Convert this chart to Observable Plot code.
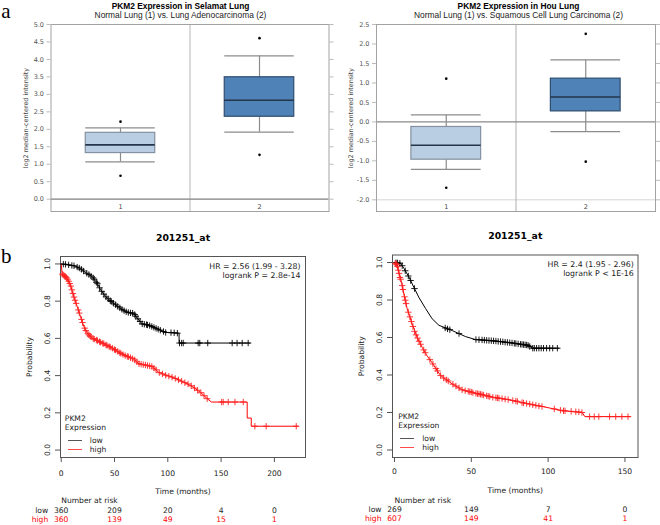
<!DOCTYPE html>
<html><head><meta charset="utf-8">
<script src="https://cdn.jsdelivr.net/npm/d3@7"></script>
<script src="https://cdn.jsdelivr.net/npm/@observablehq/plot@0.6"></script>
<style>
html,body{margin:0;padding:0;background:#fff;}
#wrap{position:relative;width:660px;height:525px;overflow:hidden;background:#fff;}
.lab{position:absolute;font-family:"Liberation Serif","DejaVu Serif",serif;font-size:21px;line-height:21px;color:#000;}
.key{position:absolute;height:1px;}
</style></head><body><div id="wrap"></div>
<script>
// ---------- Panel a: box plots ----------
const boxGroups = ["1", "2"];
const selamatTicks = [0, 0.5, 1, 1.5, 2, 2.5, 3, 3.5, 4, 4.5, 5];
const selamatQ1 = [1.32, 2.36];
const selamatMedian = [1.556, 2.83];
const selamatQ3 = [1.90, 3.49];
const selamatWhiskerLo = [1.07, 1.92];
const selamatWhiskerHi = [2.04, 4.10];
const selamatOutlierHi = [2.22, 4.61];
const selamatOutlierLo = [0.67, 1.27];

const houTicks = [-2, -1.5, -1, -0.5, 0, 0.5, 1, 1.5, 2, 2.5];
const houQ1 = [-0.97, 0.27];
const houMedian = [-0.60, 0.64];
const houQ3 = [-0.13, 1.11];
const houWhiskerLo = [-1.22, -0.25];
const houWhiskerHi = [0.18, 1.59];
const houOutlierHi = [1.11, 2.26];
const houOutlierLo = [-1.69, -1.02];

// ---------- Panel b: Kaplan-Meier ----------
const probTicks = [0, 0.2, 0.4, 0.6, 0.8, 1.0];

// left KM
const timeTicks1 = [0, 50, 100, 150, 200];
const lowCurve1 = [[0,1.0],[5,0.997],[13,0.989],[18,0.975],[23,0.953],[29,0.932],[33.8,0.896],[37,0.861],[41.6,0.825],[48,0.793],[54,0.768],[60.4,0.744],[64,0.737],[68.2,0.735],[71.3,0.709],[76,0.678],[82.3,0.671],[88.6,0.655],[98,0.632],[110.6,0.628],[110.6,0.575],[177,0.575]];
const highCurve1 = [[0,1.0],[0.9,0.946],[5.6,0.923],[8.7,0.887],[11.8,0.825],[15,0.771],[18.1,0.717],[21.2,0.664],[24.4,0.628],[29,0.602],[38.5,0.575],[47.8,0.548],[57.2,0.515],[68.1,0.489],[72.8,0.464],[85.3,0.449],[91.6,0.417],[104.1,0.392],[113.5,0.369],[122.9,0.342],[130.7,0.31],[137,0.276],[141,0.258],[174.5,0.258],[174.5,0.172],[178.3,0.172],[178.3,0.128],[222.3,0.128]];
const lowCensor1 = [[2,.999],[4,.998],[7,.995],[10,.992],[12,.990],[15,.983],[17,.978],[19,.971],[21,.962],[24,.950],[26,.943],[28,.935],[30,.925],[31,.918],[33,.901],[34,.894],[36,.872],[38,.853],[40,.838],[42,.823],[44,.813],[46,.803],[47,.798],[49,.789],[51,.781],[53,.772],[55,.764],[57,.756],[59,.749],[61,.743],[63,.739],[65,.737],[67,.736],[69,.728],[70,.719],[72,.705],[74,.691],[76,.678],[78,.676],[80,.674],[81,.672],[83,.669],[85,.664],[87,.659],[89,.654],[91,.649],[93,.644],[96,.637],[98,.632],[103,.631],[106,.630],[109,.628],[111,.575],[113,.575],[114.5,.575],[128.5,.575],[130,.575],[137.5,.575],[160.4,.575],[165,.575],[169.8,.575],[175.4,.575]];
const highCensor1 = [[1,.945],[2,.941],[3,.936],[4,.932],[5,.926],[6,.918],[7,.907],[8,.895],[9,.881],[10,.861],[11,.841],[12,.822],[13,.805],[14,.788],[16,.753],[17,.736],[19,.702],[20,.685],[22,.655],[23,.642],[25,.625],[26,.619],[27,.613],[28,.608],[30,.599],[31,.596],[33,.591],[34,.588],[36,.582],[37,.579],[39,.574],[40,.571],[42,.565],[43,.562],[45,.556],[46,.553],[48,.547],[50,.540],[51,.537],[53,.530],[55,.523],[56,.519],[58,.513],[60,.508],[62,.503],[63,.501],[65,.496],[67,.491],[69,.484],[71,.474],[73,.464],[75,.461],[77,.459],[79,.457],[81,.454],[83,.452],[85,.449],[87,.440],[89,.431],[92,.416],[95,.409],[98,.402],[101,.397],[104,.392],[107,.385],[110,.377],[113,.370],[116,.362],[119,.355],[122,.345],[125,.333],[128,.321],[131,.308],[134,.292],[137,.276],[150.5,.258],[152,.258],[156.7,.258],[163,.258],[170.8,.258],[181.7,.128],[192.3,.128],[220.5,.128]];
const riskTimes1 = [0, 50, 100, 150, 200];
const riskLow1 = [360, 209, 20, 4, 0];
const riskHigh1 = [360, 139, 49, 15, 1];
const hrText1 = "HR = 2.56 (1.99 - 3.28)";
const pText1 = "logrank P = 2.8e-14";

// right KM
const timeTicks2 = [0, 50, 100, 150];
const lowCurve2 = [[0,1],[3.9,0.996],[6.1,0.969],[9.3,0.924],[12.6,0.868],[15.8,0.815],[20.2,0.755],[24.5,0.70],[28.9,0.665],[37.6,0.637],[46.2,0.605],[52.7,0.589],[65.8,0.581],[76.6,0.571],[87.4,0.558],[89.6,0.543],[107,0.543]];
const highCurve2 = [[0,1],[1.7,0.987],[2.8,0.948],[4.6,0.893],[6.1,0.832],[8.2,0.755],[11.5,0.672],[14.8,0.60],[18,0.548],[21,0.505],[24.5,0.465],[29.9,0.398],[37.5,0.353],[44,0.321],[52.7,0.303],[63.6,0.282],[74.4,0.268],[85.3,0.249],[96.2,0.232],[109.2,0.21],[122.2,0.20],[123.9,0.178],[153.6,0.178]];
const lowCensor2 = [[1,.999],[2,.998],[3.5,.996],[5,.983],[7,.956],[9,.928],[10.5,.904],[13,.861],[33,.651],[34.5,.646],[36,.642],[42,.621],[53,.589],[55,.588],[57,.587],[58.5,.586],[60,.585],[61.5,.584],[63,.583],[64.5,.582],[66,.581],[67.5,.579],[69,.578],[70.5,.577],[72,.575],[73.5,.574],[75,.572],[76.5,.571],[78,.569],[79,.568],[80.5,.566],[82,.564],[83,.563],[84,.562],[85,.561],[86,.560],[87,.558],[88,.552],[90,.543],[91,.543],[92.5,.543],[94,.543],[95.5,.543],[97,.543],[99,.543],[101,.543],[103,.543],[106,.543]];
const highCensor2 = [[0.5,.996],[1,.992],[1.5,.988],[2,.978],[2.5,.959],[3,.942],[3.5,.92],[4,.911],[5,.877],[5.5,.856],[6.5,.817],[7,.799],[7.5,.781],[9,.735],[10,.710],[11,.685],[12,.659],[13,.633],[14,.614],[15,.597],[16,.580],[17,.564],[19,.534],[20,.519],[23,.482],[25,.459],[27,.434],[28,.422],[30,.397],[32,.384],[34,.374],[35,.368],[38,.351],[40,.341],[42,.331],[44,.321],[46,.316],[48,.313],[49,.311],[50,.309],[51,.306],[53,.302],[54,.300],[55,.299],[56,.297],[57,.295],[58,.293],[60,.289],[61,.287],[62,.285],[64,.281],[66,.279],[67,.278],[68,.276],[70,.274],[72,.271],[74,.269],[77,.264],[79,.261],[80,.259],[83,.253],[84,.251],[86,.248],[88,.245],[90,.241],[92,.238],[94,.235],[96,.232],[104,.219],[108,.212],[110,.209],[111,.209],[115,.206],[118,.204],[120,.203],[122,.200],[127,.178],[130,.178],[133,.178],[140,.178],[144,.178],[148,.178],[152,.178]];
const riskTimes2 = [0, 50, 100, 150];
const riskLow2 = [269, 149, 7, 0];
const riskHigh2 = [607, 149, 41, 1];
const hrText2 = "HR = 2.4 (1.95 - 2.96)";
const pText2 = "logrank P < 1E-16";

const kmTitle = "201251_at";
const legendTitle = ["PKM2", "Expression"];
const groupNames = ["low", "high"];

// ---------- rendering ----------
const wrap = document.getElementById("wrap");
function place(node, left, top) {
  node.style.position = "absolute";
  node.style.left = left + "px";
  node.style.top = top + "px";
  wrap.appendChild(node);
}

function boxPanel(o) {
  const idx = boxGroups.map((_, i) => i);
  const half = 0.25;
  const whisk = "#8c8c8c";
  const fills = ["#b9cde3", "#4f82b6"];
  const strokes = ["#8491a0", "#2f4d6e"];
  const marks = [
    Plot.ruleY([o.ticks[0]], {stroke: "#d4d4d4", strokeWidth: 1}),
    Plot.ruleX(idx.slice(1), {stroke: o.divider, strokeWidth: o.dividerWidth}),
    Plot.ruleY([0], {stroke: "#8a8a8a", strokeWidth: 1.3}),
    Plot.ruleX(idx, {x: i => i + 0.5, y1: i => o.whi[i], y2: i => o.q3[i], stroke: whisk, strokeWidth: 1.2}),
    Plot.ruleX(idx, {x: i => i + 0.5, y1: i => o.wlo[i], y2: i => o.q1[i], stroke: whisk, strokeWidth: 1.2}),
    Plot.ruleY(idx, {y: i => o.whi[i], x1: i => i + 0.5 - half, x2: i => i + 0.5 + half, stroke: whisk, strokeWidth: 1.2}),
    Plot.ruleY(idx, {y: i => o.wlo[i], x1: i => i + 0.5 - half, x2: i => i + 0.5 + half, stroke: whisk, strokeWidth: 1.2}),
    ...idx.map(i => Plot.rect([i], {x1: d => d + 0.5 - half, x2: d => d + 0.5 + half, y1: d => o.q1[d], y2: d => o.q3[d], fill: fills[i], stroke: strokes[i], strokeWidth: 1.2})),
    Plot.ruleY(idx, {y: i => o.med[i], x1: i => i + 0.5 - half, x2: i => i + 0.5 + half, stroke: "#25354a", strokeWidth: 1.6}),
    Plot.dot(idx, {x: i => i + 0.5, y: i => o.outHi[i], r: 1.3, fill: "#000"}),
    Plot.dot(idx, {x: i => i + 0.5, y: i => o.outLo[i], r: 1.3, fill: "#000"}),
    Plot.frame({stroke: "#a2a2a2"}),
    Plot.axisY({ticks: o.ticks, tickSize: 4, tickPadding: 3, tickFormat: d => d.toFixed(1), stroke: "#bbb", fill: "#555", label: null}),
    Plot.axisY({anchor: "right", ticks: o.ticks, tickSize: 4, tickFormat: () => "", stroke: "#bbb", label: null}),
    Plot.text(idx, {x: i => i + 0.5, text: i => boxGroups[i], frameAnchor: "bottom", dy: -2.7, lineAnchor: "bottom", fill: "#444"}),
    Plot.text([o.ylabel], {text: d => d, frameAnchor: "left", dx: o.ylabDx, rotate: -90, textAnchor: "middle", lineAnchor: "middle", fill: "#444", fontSize: 6.4}),
    Plot.text([o.title], {text: d => d, frameAnchor: "top", dx: o.titleDx, dy: -15.5, lineAnchor: "bottom", fontFamily: "Liberation Sans", fontWeight: "bold", fontSize: 8.4, fill: "#000"}),
    Plot.text([o.subtitle], {text: d => d, frameAnchor: "top", dx: o.titleDx, dy: -6.8, lineAnchor: "bottom", fontFamily: "Liberation Sans", fontSize: 8.4, fill: "#222"})
  ];
  return Plot.plot({
    width: 335, height: 220,
    marginLeft: o.mL, marginRight: o.mR, marginTop: 24, marginBottom: 9,
    x: {domain: [0, boxGroups.length], axis: null},
    y: {domain: o.yDomain},
    style: {background: "transparent", fontFamily: "DejaVu Sans", fontSize: "6.5px", color: "#444", overflow: "visible"},
    marks
  });
}

place(boxPanel({
  mL: 50.5, mR: 6.5, yDomain: [-0.352, 5.0], ticks: selamatTicks,
  q1: selamatQ1, med: selamatMedian, q3: selamatQ3, wlo: selamatWhiskerLo, whi: selamatWhiskerHi,
  outHi: selamatOutlierHi, outLo: selamatOutlierLo,
  divider: "#d2d2d2", dividerWidth: 1.6, ylabDx: -25.5, titleDx: -9.5,
  ylabel: "log2 median-centered intensity",
  title: "PKM2 Expression in Selamat Lung",
  subtitle: "Normal Lung (1) vs. Lung Adenocarcinoma (2)"
}), 0, 0);

place(boxPanel({
  mL: 46, mR: 10, yDomain: [-2.30, 2.5], ticks: houTicks,
  q1: houQ1, med: houMedian, q3: houQ3, wlo: houWhiskerLo, whi: houWhiskerHi,
  outHi: houOutlierHi, outLo: houOutlierLo,
  divider: "#b0b0b0", dividerWidth: 1, ylabDx: -26, titleDx: 2.5,
  ylabel: "log2 median-centered intensity",
  title: "PKM2 Expression in Hou Lung",
  subtitle: "Normal Lung (1) vs. Squamous Cell Lung Carcinoma (2)"
}), 330, 0);

function kmPanel(o) {
  const xy = {x: d => d[0], y: d => d[1]};
  const txt = {fill: "#222"};
  return Plot.plot({
    width: 330, height: 305,
    marginLeft: o.mL, marginRight: o.mR, marginTop: o.mT, marginBottom: 68,
    x: {domain: o.xDomain},
    y: {domain: [-0.04, 1.04]},
    style: {background: "transparent", fontFamily: "DejaVu Sans", fontSize: "7.6px", color: "#222", overflow: "visible"},
    marks: [
      Plot.frame({stroke: "#555"}),
      Plot.line(o.low, {...xy, stroke: "#000", strokeWidth: 1}),
      Plot.line(o.high, {...xy, stroke: "#ff0000", strokeWidth: 1}),
      Plot.dot(o.lowC, {...xy, symbol: "plus", r: 2.2, stroke: "#000", strokeWidth: 0.9}),
      Plot.dot(o.highC, {...xy, symbol: "plus", r: 2.2, stroke: "#ff2020", strokeWidth: 0.9}),
      Plot.axisX({ticks: o.xTicks, tickSize: 5, tickPadding: o.xPad, stroke: "#555", fill: "#222", label: null}),
      Plot.axisY({ticks: probTicks, tickSize: 5, tickFormat: () => "", stroke: "#555", label: null}),
      Plot.text(probTicks, {y: d => d, text: d => d.toFixed(1), frameAnchor: "left", dx: o.yLabDx, rotate: -90, textAnchor: "middle", lineAnchor: "middle", ...txt}),
      Plot.text(["Probability"], {text: d => d, frameAnchor: "left", dx: -30.8, rotate: -90, textAnchor: "middle", lineAnchor: "middle", ...txt}),
      Plot.text([kmTitle], {text: d => d, frameAnchor: "top", dy: o.titleDy, lineAnchor: "bottom", fontWeight: "bold", fontSize: 9.3, fill: "#000"}),
      Plot.text([o.hr], {text: d => d, frameAnchor: "top-right", dx: o.hrDx, dy: o.hrDy[0], textAnchor: "end", lineAnchor: "bottom", fontSize: 7.8, ...txt}),
      Plot.text([o.p], {text: d => d, frameAnchor: "top-right", dx: o.hrDx, dy: o.hrDy[1], textAnchor: "end", lineAnchor: "bottom", fontSize: 7.8, ...txt}),
      Plot.text(["Time (months)"], {text: d => d, frameAnchor: "bottom", dy: o.timeDy, lineAnchor: "bottom", ...txt}),
      Plot.text(["Number at risk"], {text: d => d, x: () => 0, frameAnchor: "bottom", dy: o.nDy, textAnchor: "start", lineAnchor: "bottom", ...txt}),
      Plot.text(o.riskTimes, {x: d => d, text: (d, i) => String(o.riskLow[i]), frameAnchor: "bottom", dy: o.rowDy[0], lineAnchor: "bottom", fill: "#222"}),
      Plot.text(o.riskTimes, {x: d => d, text: (d, i) => String(o.riskHigh[i]), frameAnchor: "bottom", dy: o.rowDy[1], lineAnchor: "bottom", fill: "#ff0000"}),
      Plot.text([groupNames[0]], {text: d => d, frameAnchor: "bottom-left", dx: o.rowLabDx, dy: o.rowDy[0], textAnchor: "end", lineAnchor: "bottom", fill: "#222"}),
      Plot.text([groupNames[1]], {text: d => d, frameAnchor: "bottom-left", dx: o.rowLabDx, dy: o.rowDy[1], textAnchor: "end", lineAnchor: "bottom", fill: "#ff0000"}),
      Plot.text([legendTitle[0]], {text: d => d, frameAnchor: "bottom-left", dx: o.legDx, dy: o.legDy[0], textAnchor: "start", lineAnchor: "bottom", ...txt}),
      Plot.text([legendTitle[1]], {text: d => d, frameAnchor: "bottom-left", dx: o.legDx, dy: o.legDy[1], textAnchor: "start", lineAnchor: "bottom", ...txt}),
      Plot.text([groupNames[0]], {text: d => d, frameAnchor: "bottom-left", dx: o.legTextDx, dy: o.legDy[2], textAnchor: "start", lineAnchor: "bottom", ...txt}),
      Plot.text([groupNames[1]], {text: d => d, frameAnchor: "bottom-left", dx: o.legTextDx, dy: o.legDy[3], textAnchor: "start", lineAnchor: "bottom", ...txt})
    ]
  });
}

place(kmPanel({
  mL: 60, mR: 25, mT: 36, xDomain: [-0.66, 229.2], xTicks: timeTicks1, xPad: 8,
  low: lowCurve1, high: highCurve1, lowC: lowCensor1, highC: highCensor1,
  riskTimes: riskTimes1, riskLow: riskLow1, riskHigh: riskHigh1,
  hr: hrText1, p: pText1, hrDx: -5, hrDy: [12.2, 21.4], titleDy: -15.9,
  yLabDx: -13, timeDy: 36.2, nDy: 45.8, rowDy: [55.8, 64.5], rowLabDx: -12.3,
  legDx: 4.3, legDy: [-36.4, -27.4, -14.5, -5.7], legTextDx: 29.3
}), 0, 220);

place(kmPanel({
  mL: 62, mR: 22.5, mT: 34.5, xDomain: [-1.3, 158.5], xTicks: timeTicks2, xPad: 6.3,
  low: lowCurve2, high: highCurve2, lowC: lowCensor2, highC: highCensor2,
  riskTimes: riskTimes2, riskLow: riskLow2, riskHigh: riskHigh2,
  hr: hrText2, p: pText2, hrDx: -4.2, hrDy: [11.8, 21.1], titleDy: -16,
  yLabDx: -12.5, timeDy: 35.2, nDy: 45.2, rowDy: [54.5, 63.5], rowLabDx: -11,
  legDx: 5.7, legDy: [-38.2, -29.1, -16.4, -7.1], legTextDx: 29.7
}), 330, 220);

// legend key lines
function key(left, top, width, color) {
  const d = document.createElement("div");
  d.className = "key";
  d.style.left = left + "px"; d.style.top = top + "px"; d.style.width = width + "px"; d.style.background = color;
  wrap.appendChild(d);
}
key(68, 440, 14, "#555");
key(68, 449, 14, "#ff4a4a");
key(400, 438, 14, "#555");
key(400, 447, 14, "#ff4a4a");

// panel letters
function letter(t, left, top) {
  const d = document.createElement("div");
  d.className = "lab"; d.textContent = t;
  d.style.left = left + "px"; d.style.top = top + "px";
  wrap.appendChild(d);
}
letter("a", 1.3, 0.7);
letter("b", 1, 245.7);
</script>
</body></html>
